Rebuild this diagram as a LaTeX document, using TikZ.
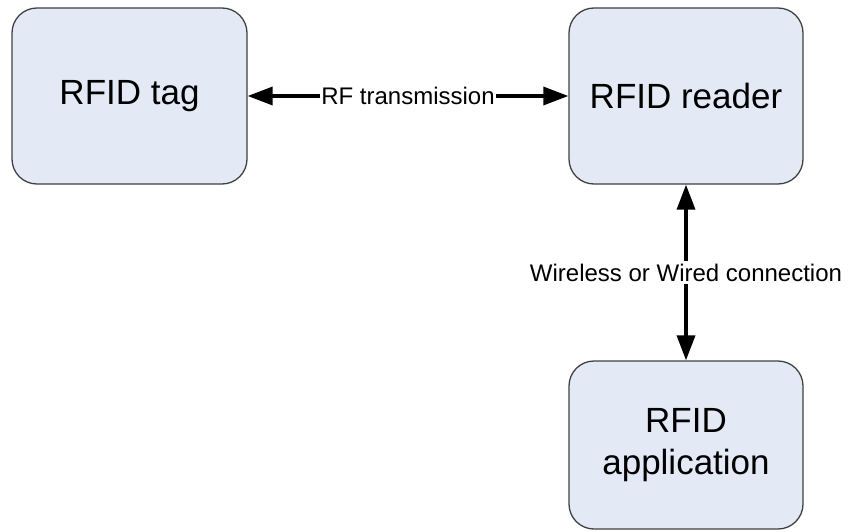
\documentclass[tikz,border=0pt]{standalone}
\usepackage{fontspec}
\setmainfont{Liberation Sans}
\usetikzlibrary{arrows.meta}
\definecolor{boxfill}{RGB}{227,234,246}
\definecolor{boxline}{RGB}{64,64,64}
\begin{document}
\begin{tikzpicture}[x=1pt,y=-1pt,
  rfidbox/.style={draw=boxline,line width=1.3pt,fill=boxfill,rounded corners=25pt,
    minimum width=#1,align=center,inner sep=0pt,font=\fontsize{35}{42}\selectfont},
  link/.style={line width=3.5pt,{Triangle[length=25pt,width=18pt]}-{Triangle[length=25pt,width=18pt]}},
  linklabel/.style={fill=white,inner sep=1.5pt,font=\fontsize{24}{28}\selectfont}]
\useasboundingbox (0,0) rectangle (848,532);
\node[rfidbox=235pt,minimum height=176pt] (tag) at (129.5,96) {RFID tag};
\node[rfidbox=234pt,minimum height=176pt] (reader) at (686,96) {RFID reader};
\node[rfidbox=234pt,minimum height=168pt] (app) at (686,445) {RFID\\application};
\draw[link] (tag.east) -- node[linklabel] {RF transmission} (reader.west);
\draw[link] (reader.south) -- node[linklabel,inner sep=3pt] {Wireless or Wired connection} (app.north);
\end{tikzpicture}
\end{document}
